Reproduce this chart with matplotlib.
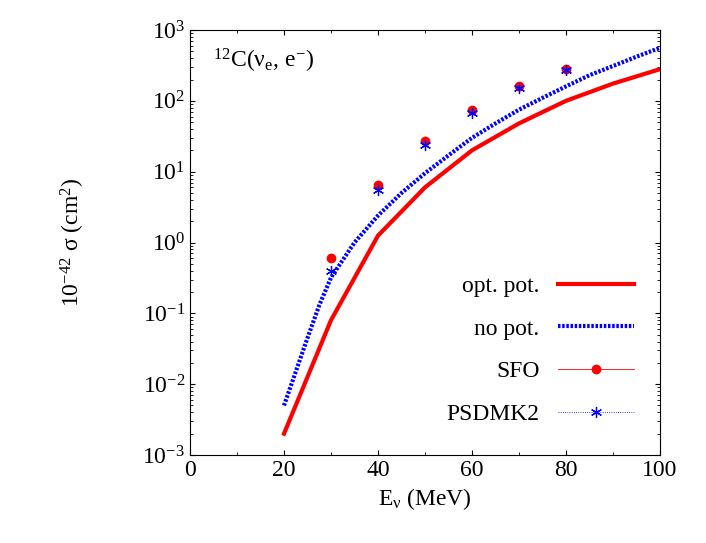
import matplotlib
matplotlib.use("Agg")
import matplotlib.pyplot as plt
from matplotlib.lines import Line2D

plt.rcParams["font.family"] = "Liberation Serif"
plt.rcParams["mathtext.fontset"] = "custom"
plt.rcParams["mathtext.rm"] = "Liberation Serif"
plt.rcParams["mathtext.it"] = "Liberation Serif"
plt.rcParams["mathtext.default"] = "regular"

e_opt = [20, 30, 40, 50, 60, 70, 80, 90, 100]
s_opt = [0.002, 0.08, 1.25, 6.0, 20, 48, 100, 175, 280]
e_nop = [20, 22.5, 25, 27.5, 30, 35, 40, 45, 50, 55, 60, 65, 70, 75, 80, 85, 90, 95, 100]
s_nop = [0.005, 0.015, 0.045, 0.13, 0.32, 1.0, 2.4, 5, 9.5, 17, 30, 48, 75, 110, 160, 230, 310, 420, 560]
e_pts = [30, 40, 50, 60, 70, 80]
s_sfo = [0.6, 6.5, 27, 75, 160, 280]
s_psd = [0.4, 5.5, 24, 68, 150, 270]

ast = (6, 2, 0)
fig = plt.figure(figsize=(7.06, 5.43), dpi=100)
ax = fig.add_axes([190/706, 88/543, 470/706, 425/543])
ax.plot(e_opt, s_opt, color="red", lw=3)
ax.plot(e_nop, s_nop, color="blue", lw=3, ls=(0, (0.6, 0.4)))
ax.plot(e_pts, s_sfo, color="red", marker="o", ms=6, ls="none")
ax.plot(e_pts, s_psd, color="blue", marker=ast, ms=8, mew=0.9, ls="none")
ax.set_yscale("log")
ax.set_xlim(0, 100)
ax.set_ylim(1e-3, 1e3)
ax.set_xticks(range(0, 101, 20))
ax.set_xticks(range(0, 101, 10), minor=True)
ax.tick_params(which="both", direction="in", top=True, right=True, labelsize=17)
ax.set_xlabel("E$_{ν}$ (MeV)", fontsize=17)
ax.set_ylabel("10$^{-42}$ σ (cm$^{2}$)", fontsize=17, labelpad=40)
ax.text(5, 300, "$^{12}$C(ν$_{e}$, e$^{-}$)", fontsize=17)

handles = [Line2D([], [], color="red", lw=3),
           Line2D([], [], color="blue", lw=3, ls=(0, (0.6, 0.4))),
           Line2D([], [], color="red", lw=0.6, marker="o", ms=6),
           Line2D([], [], color="blue", lw=0.6, ls=":", marker=ast, ms=8, mew=0.9)]
ax.legend(handles, ["opt. pot.", "no pot.", "SFO", "PSDMK2"], loc="lower right",
          frameon=False, fontsize=17, markerfirst=False, handlelength=3.2,
          labelspacing=0.9, bbox_to_anchor=(0.99, 0.02))
fig.savefig("out.png")
